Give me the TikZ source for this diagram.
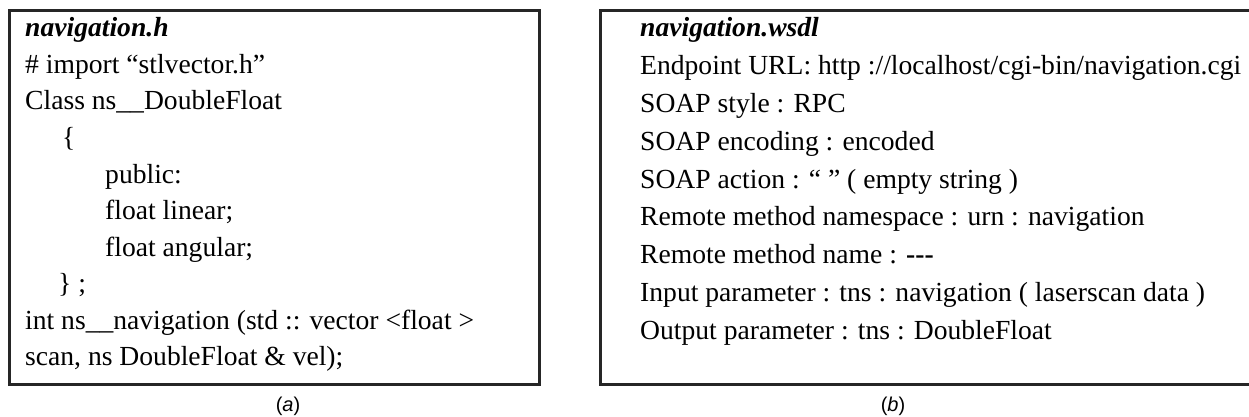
\documentclass[tikz,border=0pt]{standalone}
\usepackage{fontspec}
\setmainfont{Liberation Serif}
\newfontfamily\capfont{Liberation Sans}
\begin{document}
\begin{tikzpicture}[x=1pt,y=-1pt,
  codeline/.style={anchor=base west,inner sep=0pt,font=\fontsize{27.6}{30}\selectfont},
  panel/.style={draw=black!85,line width=3pt},
  captxt/.style={inner sep=0pt,font=\capfont\fontsize{20}{24}\selectfont}]
\useasboundingbox (0,0) rectangle (1249,417);
\clip (0,0) rectangle (1249,417);
% panel boxes
\draw[panel] (9,11) rectangle (539,384);
\draw[panel] (600,11) rectangle (1260,384);
% panel (a)
\node[codeline] (a1) at (25,37) {\textbf{\textit{navigation.h}}};
\node[codeline] (a2) at (25,73.5) {\# import “stlvector.h”};
\node[codeline] (a3) at (25,110) {Class ns\_\_DoubleFloat};
\node[codeline] (a4) at (62,146.5) {\{};
\node[codeline] (a5) at (105,183) {public:};
\node[codeline] (a6) at (105,219.5) {float linear;};
\node[codeline] (a7) at (105,256) {float angular;};
\node[codeline] (a8) at (58,292.5) {\} ;};
\node[codeline] (a9) at (25,329) {int ns\_\_navigation (std :: vector <float >};
\node[codeline] (a10) at (25,365.5) {scan, ns DoubleFloat \& vel);};
% panel (b)
\node[codeline] (b1) at (640,37) {\textbf{\textit{navigation.wsdl}}};
\node[codeline] (b2) at (640,74.75) {Endpoint URL: http ://localhost/cgi-bin/navigation.cgi};
\node[codeline] (b3) at (640,112.5) {SOAP style : RPC};
\node[codeline] (b4) at (640,150.25) {SOAP encoding : encoded};
\node[codeline] (b5) at (640,188) {SOAP action : “ ” ( empty string )};
\node[codeline] (b6) at (640,225.75) {Remote method namespace : urn : navigation};
\node[codeline] (b7) at (640,263.5) {Remote method name : \textbf{-{}-{}-}};
\node[codeline] (b8) at (640,301.25) {Input parameter : tns : navigation ( laserscan data )};
\node[codeline] (b9) at (640,339) {Output parameter : tns : DoubleFloat};
% captions
\node[captxt] (capa) at (288,406) {(\textit{a})};
\node[captxt] (capb) at (893,406) {(\textit{b})};
\end{tikzpicture}
\end{document}
